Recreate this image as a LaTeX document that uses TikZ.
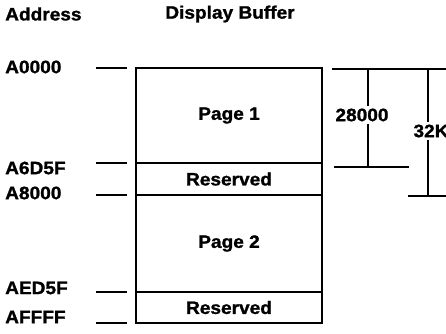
\documentclass[tikz,border=0pt]{standalone}
\usepackage{fontspec}
\setmainfont{Liberation Sans}[FakeStretch=1.06, BoldFeatures={FakeBold=1.2}]
\usetikzlibrary{positioning}

\begin{document}
\begin{tikzpicture}[
    x=1pt, y=-1pt,
    cell/.style={draw, line width=2.8pt, minimum width=186pt, outer sep=0pt, font=\bfseries\fontsize{18}{20}\selectfont},
    lbl/.style={anchor=west, inner sep=0pt, font=\bfseries\fontsize{18}{20}\selectfont},
    tick/.style={line width=1.8pt},
    dim/.style={line width=1.6pt}
]
\useasboundingbox (0,0) rectangle (446,333);
% headings
\node[lbl] (addr) at (5,14) {Address};
\node[lbl, anchor=center] (buf) at (230,14) {Display Buffer};
% buffer
\node[cell, minimum height=95pt, anchor=north west] (page1) at (136,68) {Page 1};
\node[cell, minimum height=32pt, below=0pt of page1] (res1) {Reserved};
\node[cell, minimum height=97pt, below=0pt of res1] (page2) {Page 2};
\node[cell, minimum height=31pt, below=0pt of page2] (res2) {Reserved};
% addresses
\node[lbl] (a0) at (5,67) {A0000};
\node[lbl] (a1) at (5,168) {A6D5F};
\node[lbl] (a2) at (5,193) {A8000};
\node[lbl] (a3) at (5,288) {AED5F};
\node[lbl] (a4) at (5,317) {AFFFF};
\foreach \n in {page1.north west, res1.north west, page2.north west, res2.north west, res2.south west}
  \draw[tick] ([xshift=-40pt]\n) -- ++(31,0);
% sizes
\coordinate (top) at (332,69);
\coordinate (topend) at (446,69);
\draw[dim] (top) -- (topend);
\node[lbl, anchor=center, fill=white, inner sep=2pt] (s1) at (362,115) {28000};
\node[lbl, anchor=center, fill=white, inner sep=2pt] (s2) at (431,131) {32K};
\coordinate (b1l) at (334,167);
\coordinate (b1r) at (409,167);
\coordinate (b2l) at (408,196);
\coordinate (b2r) at (446,196);
\draw[dim] (b1l) -- (b1r);
\draw[dim] (b2l) -- (b2r);
\draw[dim] (368,69) -- (s1.north -| 368,0);
\draw[dim] (s1.south -| 368,0) -- (368,167);
\draw[dim] (428,69) -- (s2.north -| 428,0);
\draw[dim] (s2.south -| 428,0) -- (428,196);
\end{tikzpicture}
\end{document}
